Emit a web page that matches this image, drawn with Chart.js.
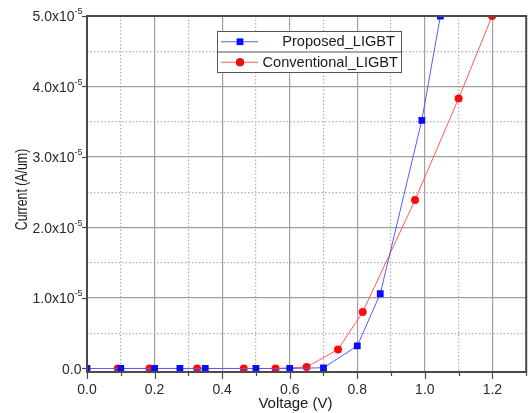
<!DOCTYPE html>
<html>
<head>
<meta charset="utf-8">
<script src="https://cdn.jsdelivr.net/npm/chart.js@4/dist/chart.umd.min.js"></script>
<style>
  html, body { margin: 0; padding: 0; background: #fff; }
  #wrap { width: 531px; height: 413px; }
</style>
</head>
<body>
<div id="wrap"><canvas id="chart" width="531" height="413"></canvas></div>
<script>
// I-V curves, voltage in V, current in A/um
const proposedVoltage = [0, 0.1, 0.2, 0.275, 0.35, 0.5, 0.6, 0.7, 0.8, 0.868, 0.991, 1.046];
const proposedCurrent = [0, 0, 0, 0, 0, 0, 0, 0.01e-5, 0.32e-5, 1.06e-5, 3.52e-5, 5.0e-5];
const conventionalVoltage = [0.091, 0.185, 0.326, 0.464, 0.558, 0.65, 0.743, 0.816, 0.971, 1.10, 1.199];
const conventionalCurrent = [0, 0, 0, 0, 0, 0.02e-5, 0.27e-5, 0.80e-5, 2.39e-5, 3.83e-5, 5.0e-5];

const seriesNames = ['Proposed_LIGBT', 'Conventional_LIGBT'];
const xTickValues = [0, 0.2, 0.4, 0.6, 0.8, 1.0, 1.2];
const yTickValues = [0, 1e-5, 2e-5, 3e-5, 4e-5, 5e-5];
const xTitle = 'Voltage (V)';
const yTitle = 'Current (A/um)';

const FONT = '"Liberation Sans", Arial, sans-serif';

const toPoints = (xs, ys) => xs.map((x, i) => ({ x: x, y: ys[i] }));

const isMajorX = (v) => Math.abs(v * 5 - Math.round(v * 5)) < 1e-6;
const isMajorY = (v) => v >= -1e-12 && Math.abs(v / 1e-5 - Math.round(v / 1e-5)) < 1e-6;

// labels, ticks, titles, frame and boxed legend
const decorations = {
    id: 'decorations',
    afterDatasetsDraw(chart) {
        const ctx = chart.ctx;
        const area = chart.chartArea;
        const xs = chart.scales.x;
        const ys = chart.scales.y;

        ctx.save();

        // frame
        ctx.strokeStyle = '#4a4a4a';
        ctx.lineWidth = 2;
        ctx.strokeRect(area.left, area.top, area.right - area.left, area.bottom - area.top);

        // bottom tick marks
        ctx.lineWidth = 1.2;
        for (let k = 0; k <= 13; k++) {
            const px = Math.round(xs.getPixelForValue(k / 10)) + 0.5;
            const len = k % 2 === 0 ? 7 : 4;
            ctx.beginPath();
            ctx.moveTo(px, area.bottom);
            ctx.lineTo(px, area.bottom + len);
            ctx.stroke();
        }
        // left tick marks
        yTickValues.forEach(v => {
            const py = Math.round(ys.getPixelForValue(v)) + 0.5;
            ctx.beginPath();
            ctx.moveTo(area.left - 5, py);
            ctx.lineTo(area.left, py);
            ctx.stroke();
        });

        // x labels
        ctx.fillStyle = '#2a2a2a';
        ctx.font = '14px ' + FONT;
        ctx.textAlign = 'center';
        ctx.textBaseline = 'middle';
        xTickValues.forEach(v => {
            ctx.fillText(v.toFixed(1), xs.getPixelForValue(v), 390);
        });

        // y labels with superscript exponent
        yTickValues.forEach(v => {
            const py = ys.getPixelForValue(v) + 1.5;
            const right = area.left - 4.5;
            ctx.textBaseline = 'middle';
            ctx.textAlign = 'right';
            if (v === 0) {
                ctx.font = '14px ' + FONT;
                ctx.fillText('0.0', right - 1, py);
                return;
            }
            ctx.font = '9px ' + FONT;
            const sup = '-5';
            const supW = ctx.measureText(sup).width;
            ctx.fillText(sup, right, py - 5.5);
            ctx.font = '14px ' + FONT;
            ctx.fillText((v / 1e-5).toFixed(1) + 'x10', right - supW, py);
        });

        // axis titles
        ctx.fillStyle = '#1a1a1a';
        ctx.font = '15px ' + FONT;
        ctx.textAlign = 'center';
        ctx.textBaseline = 'alphabetic';
        ctx.fillText(xTitle, 295.5, 408);

        ctx.save();
        ctx.translate(26.5, 189.5);
        ctx.rotate(-Math.PI / 2);
        ctx.scale(0.77, 1);
        ctx.font = '16px ' + FONT;
        ctx.fillText(yTitle, 0, 0);
        ctx.restore();

        // legend box
        const lx = 217, ly = 31, lw = 184, rowH = 20.5;
        ctx.fillStyle = '#fff';
        ctx.fillRect(lx, ly, lw, rowH * 2);
        ctx.strokeStyle = '#555';
        ctx.lineWidth = 1;
        ctx.strokeRect(lx + 0.5, ly + 0.5, lw, rowH * 2);
        ctx.beginPath();
        ctx.moveTo(lx, ly + rowH + 0.5);
        ctx.lineTo(lx + lw, ly + rowH + 0.5);
        ctx.stroke();

        chart.data.datasets.forEach((ds, i) => {
            const cy = ly + rowH * i + rowH / 2 + 0.5;
            ctx.strokeStyle = ds.borderColor;
            ctx.lineWidth = 1;
            ctx.beginPath();
            ctx.moveTo(lx + 4, cy);
            ctx.lineTo(lx + 41, cy);
            ctx.stroke();
            Chart.helpers.drawPoint(ctx, {
                pointStyle: ds.pointStyle,
                radius: ds.pointRadius,
                borderWidth: 0
            }, lx + 23, cy);
            ctx.fillStyle = ds.pointBackgroundColor;
            ctx.fill();

            ctx.fillStyle = '#1a1a1a';
            ctx.font = '14.6px ' + FONT;
            ctx.textAlign = 'right';
            ctx.textBaseline = 'middle';
            ctx.fillText(seriesNames[i], i === 0 ? 395 : 398, cy + 0.5);
        });

        ctx.restore();
    }
};

new Chart(document.getElementById('chart'), {
    type: 'line',
    data: {
        datasets: [{
            label: seriesNames[0],
            data: toPoints(proposedVoltage, proposedCurrent),
            borderColor: '#5a5aff',
            borderWidth: 1,
            pointStyle: 'rect',
            pointRadius: 4.8,
            pointBackgroundColor: '#0a0aff',
            pointBorderWidth: 0,
            tension: 0,
            clip: 0
        }, {
            label: seriesNames[1],
            data: toPoints(conventionalVoltage, conventionalCurrent),
            borderColor: '#ff5a5a',
            borderWidth: 1,
            pointStyle: 'circle',
            pointRadius: 4,
            pointBackgroundColor: '#ff0a0a',
            pointBorderWidth: 0,
            tension: 0,
            clip: 0
        }]
    },
    options: {
        responsive: false,
        devicePixelRatio: 1,
        animation: false,
        layout: {
            padding: { left: 87, right: 4, top: 16, bottom: 41 }
        },
        plugins: {
            legend: { display: false },
            tooltip: { enabled: false }
        },
        scales: {
            x: {
                type: 'linear',
                min: 0,
                max: 1.3,
                afterFit: (s) => { s.height = 0; },
                ticks: { display: false, stepSize: 0.1 },
                grid: {
                    drawTicks: false,
                    lineWidth: 1.2,
                    color: (c) => c.tick && isMajorX(c.tick.value) ? '#a0a0a0' : '#b0b0b0'
                },
                border: {
                    display: false,
                    dash: (c) => c.tick && !isMajorX(c.tick.value) ? [1.5, 2] : []
                }
            },
            y: {
                type: 'linear',
                min: -5e-7,
                max: 5e-5,
                afterFit: (s) => { s.width = 0; },
                ticks: { display: false, stepSize: 5e-6 },
                grid: {
                    drawTicks: false,
                    lineWidth: 1.2,
                    color: (c) => {
                        if (!c.tick || c.tick.value < 0) return 'rgba(0,0,0,0)';
                        return isMajorY(c.tick.value) ? '#a0a0a0' : '#b0b0b0';
                    }
                },
                border: {
                    display: false,
                    dash: (c) => c.tick && !isMajorY(c.tick.value) ? [1.5, 2] : []
                }
            }
        }
    },
    plugins: [decorations]
});
</script>
</body>
</html>
